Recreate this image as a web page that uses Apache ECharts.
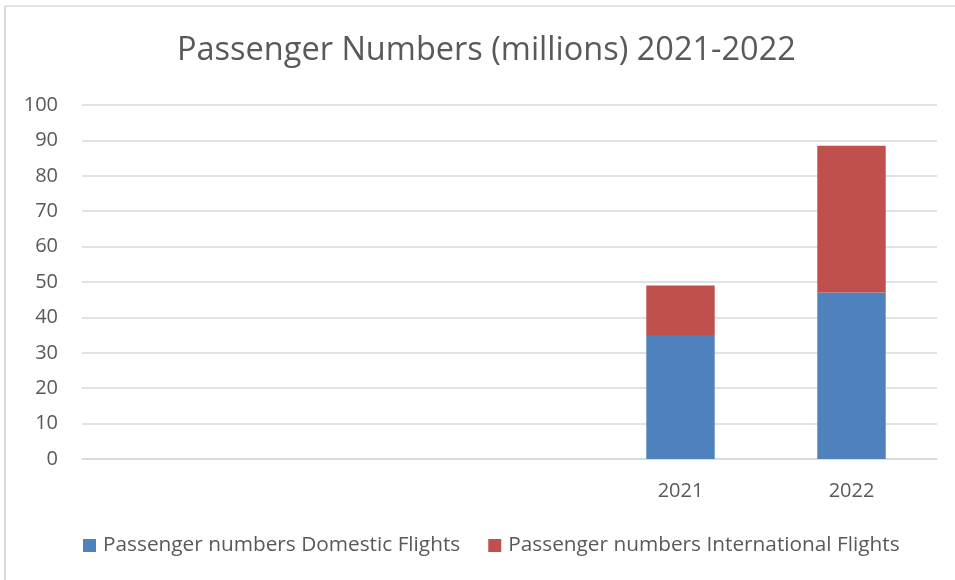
<!DOCTYPE html>
<html>
<head>
<meta charset="utf-8">
<script src="https://cdn.jsdelivr.net/npm/echarts@6/dist/echarts.min.js"></script>
<style>
  html, body { margin: 0; padding: 0; background: #fff; }
  #chart { width: 955px; height: 580px; }
</style>
</head>
<body>
<div id="chart"></div>
<script>
// Category slots: three unlabeled slots followed by the two years
const categories = ['', '', '', '2021', '2022'];
const domestic = [null, null, null, 35, 47];
const international = [null, null, null, 14, 41.5];
const yTicks = { min: 0, max: 100, interval: 10 };

const FONT = '"Open Sans", Lato, sans-serif';
const TEXT = '#595959';

const chart = echarts.init(document.getElementById('chart'));
chart.setOption({
  backgroundColor: '#ffffff',
  animation: false,
  textStyle: { fontFamily: FONT },
  // frame lines along the left and top edges
  graphic: [
    {
      type: 'line',
      shape: { x1: 5, y1: 6, x2: 955, y2: 6 },
      style: { stroke: '#d9d9d9', lineWidth: 1.5 },
      silent: true
    },
    {
      type: 'line',
      shape: { x1: 5, y1: 6, x2: 5, y2: 580 },
      style: { stroke: '#d9d9d9', lineWidth: 2 },
      silent: true
    }
  ],
  title: {
    text: 'Passenger Numbers (millions) 2021-2022',
    left: 177,
    top: 34,
    padding: 0,
    textStyle: { fontFamily: FONT, fontSize: 32.5, fontWeight: 'normal', color: TEXT }
  },
  legend: {
    bottom: 24,
    left: 83,
    padding: 0,
    itemWidth: 13,
    itemHeight: 13,
    itemGap: 28,
    icon: 'rect',
    textStyle: { fontFamily: FONT, fontSize: 20.8, color: TEXT, padding: [0, 0, 0, 2] },
    data: ['Passenger numbers Domestic Flights', 'Passenger numbers International Flights']
  },
  grid: { left: 82, right: 18, top: 105, bottom: 121, containLabel: false },
  xAxis: {
    type: 'category',
    data: categories,
    axisLine: { show: true, lineStyle: { color: '#d9d9d9', width: 1.5 } },
    axisTick: { show: false },
    axisLabel: { color: TEXT, fontSize: 20, fontFamily: FONT, margin: 22 }
  },
  yAxis: {
    type: 'value',
    min: yTicks.min,
    max: yTicks.max,
    interval: yTicks.interval,
    axisLine: { show: false },
    axisTick: { show: false },
    axisLabel: { color: TEXT, fontSize: 20, fontFamily: FONT, margin: 24 },
    splitLine: { lineStyle: { color: '#d9d9d9', width: 1.5 } }
  },
  series: [
    {
      name: 'Passenger numbers Domestic Flights',
      type: 'bar',
      stack: 'total',
      barWidth: '40%',
      data: domestic,
      itemStyle: { color: '#4f81bd' }
    },
    {
      name: 'Passenger numbers International Flights',
      type: 'bar',
      stack: 'total',
      barWidth: '40%',
      data: international,
      itemStyle: { color: '#c0504d' }
    }
  ]
});
</script>
</body>
</html>
